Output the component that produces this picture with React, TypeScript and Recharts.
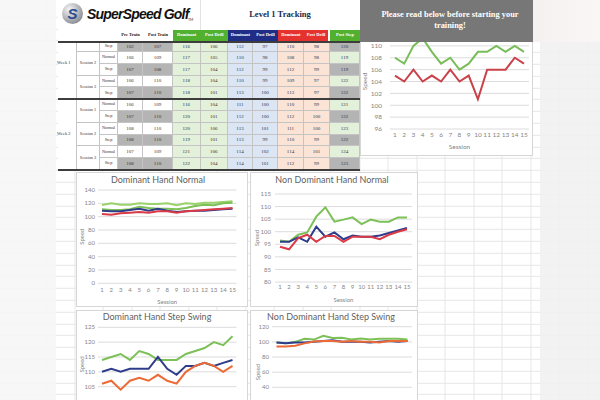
import React from 'react';
import { LineChart, Line, XAxis, YAxis, CartesianGrid } from 'recharts';

// ── Chart data ────────────────────────────────────────────────────────────────
const sessions = ['1', '2', '3', '4', '5', '6', '7', '8', '9', '10', '11', '12', '13', '14', '15'];

// Level 1 overview (top right)
const overviewGreen = [108, 107, 110, 111.3, 109, 107, 108, 106, 107, 109, 109, 110, 109, 110, 109];
const overviewRed = [105, 104, 106, 104, 105, 104, 106, 104, 105, 101, 106, 106, 106, 108, 107];

// Dominant Hand Normal
const domNormalLight = [117.5, 120, 118, 118, 120, 119, 119, 120, 117, 120, 119, 121, 121, 122, 123];
const domNormalGreen = [111, 110, 110, 111, 115, 113, 112, 112, 111, 113, 116, 118, 117, 120, 121];
const domNormalNavy = [109, 108, 108, 110, 112, 109, 112, 109, 107, 108, 109, 109, 110, 111, 112];
const domNormalRed = [104, 103, 105, 106, 107, 106, 108, 108, 106, 108, 109, 110, 111, 112, 113];

// Non Dominant Hand Normal
const nonDomNormalGreen = [96.5, 96, 98.8, 99.7, 106, 109.7, 104, 104.8, 105.7, 103, 104.8, 104, 104, 105.7, 105.7];
const nonDomNormalNavy = [96, 96, 97.8, 96, 102, 98, 99.7, 97, 98.5, 98, 98, 98.5, 99.5, 100.5, 101.5];
const nonDomNormalRed = [94, 93, 97.5, 98.8, 96, 98.3, 98.3, 96, 98, 98, 98, 97, 98.8, 100, 101];

// Dominant Hand Step Swing
const domStepGreen = [114, 115, 116, 114, 117, 116, 114, 114, 114, 116, 117, 118, 120, 119, 122];
const domStepNavy = [110, 111, 110, 111, 111, 111, 115, 111, 109, 112, 112, 113, 112, 113, 114];
const domStepOrange = [106, 107, 104, 107, 108, 107, 109, 107, 106, 110, 112, 113, 112, 110, 112];

// Non Dominant Hand Step Swing
const nonDomStepGreen = [99, 98, 100, 104, 103, 108, 105, 105.5, 103, 104.5, 103, 104, 104, 104, 103];
const nonDomStepNavy = [99, 98, 99, 99, 100, 101, 102, 100, 100, 100, 99, 100, 101, 100, 101];
const nonDomStepOrange = [94, 94, 95, 98, 100.5, 101, 101, 100, 101, 100, 100, 99, 101, 101, 101];

// ── Table data ────────────────────────────────────────────────────────────────
const headerLabels = ['Pre Train', 'Post Train', 'Dominant', 'Post Drill', 'Dominant', 'Post Drill', 'Dominant', 'Post Drill', 'Post Step'];
const rowTypes = ['Step', 'Normal', 'Step', 'Normal', 'Step', 'Normal', 'Step', 'Normal', 'Step', 'Normal', 'Step'];
const sessionLabels = ['', 'Session 2', 'Session 3', 'Session 1', 'Session 2', 'Session 3'];
const weekLabels = ['Week 1', 'Week 2'];
const preTrain = [102, 106, 107, 106, 107, 106, 107, 108, 108, 107, 108];
const postTrain = [107, 109, 108, 110, 110, 109, 110, 110, 110, 109, 110];
const domGreen = [116, 117, 117, 118, 118, 116, 120, 120, 119, 121, 122];
const drillGreen = [106, 105, 104, 104, 101, 104, 101, 106, 101, 106, 104];
const domBlue = [112, 110, 112, 110, 113, 111, 112, 113, 113, 114, 114];
const drillBlue = [97, 98, 99, 99, 100, 100, 100, 101, 99, 102, 101];
const domRed = [110, 108, 112, 109, 113, 110, 112, 111, 110, 114, 112];
const drillRed = [98, 98, 99, 97, 97, 99, 100, 100, 99, 101, 99];
const postStep = [120, 119, 119, 122, 122, 121, 122, 123, 122, 124, 123];
const tableColumns = [preTrain, postTrain, domGreen, drillGreen, domBlue, drillBlue, domRed, drillRed, postStep];

// ── Layout ────────────────────────────────────────────────────────────────────
const COL_X = [118, 143, 173, 200.5, 228, 253, 278, 304, 330, 360];
const ROW_Y = [42, 52, 63.8, 75.6, 87.4, 99.2, 111, 122.8, 134.6, 146.4, 158.2, 170];
const SESSION_SPANS = [[0, 0], [1, 2], [3, 4], [5, 6], [7, 8], [9, 10]];
const WEEK_SPANS = [[1, 2], [5, 10]];

const GREEN_H = '#52b02f';
const NAVY_H = '#1f2d86';
const RED_H = '#e5322e';
const headerBg = ['#fff', '#fff', GREEN_H, GREEN_H, NAVY_H, NAVY_H, RED_H, RED_H, GREEN_H];

const chartFont = 'Lato, "Open Sans", sans-serif';
const serif = '"Liberation Serif", "DejaVu Serif", serif';

const GREEN = '#7cc057';
const LIGHT_GREEN = '#9ad26c';
const NAVY = '#2f3c8c';
const RED = '#d93a46';
const ORANGE = '#ec6a36';

type Series = { key: string; values: number[]; color: string };
type ChartSpec = {
  left: number;
  top: number;
  width: number;
  height: number;
  margin: { top: number; right: number; bottom: number; left: number };
  yWidth: number;
  xHeight: number;
  pad: number;
  domain: [number, number];
  ticks: number[];
  xTickMargin: number;
  yTickMargin: number;
  speedOffset: number;
  sessionOffset: number;
  fontSize: number;
  showX: boolean;
  series: Series[];
};

const charts: ChartSpec[] = [
  {
    left: 355, top: 28, width: 180, height: 127,
    margin: { top: 6, right: 6, bottom: 4, left: 5 },
    yWidth: 30, xHeight: 22, pad: 5,
    domain: [96, 112], ticks: [96, 98, 100, 102, 104, 106, 108, 110, 112],
    xTickMargin: 3, yTickMargin: 8, speedOffset: 5, sessionOffset: 2, fontSize: 6.5, showX: true,
    series: [
      { key: 'green', values: overviewGreen, color: '#78bd57' },
      { key: 'red', values: overviewRed, color: '#c9424a' },
    ],
  },
  {
    left: 76, top: 172, width: 172, height: 135,
    margin: { top: 18, right: 11.5, bottom: 2.7, left: 6 },
    yWidth: 16, xHeight: 21, pad: 4,
    domain: [0, 140], ticks: [0, 20, 40, 60, 80, 100, 120, 140],
    xTickMargin: 4, yTickMargin: 3, speedOffset: 0, sessionOffset: 0, fontSize: 6, showX: true,
    series: [
      { key: 'light', values: domNormalLight, color: LIGHT_GREEN },
      { key: 'green', values: domNormalGreen, color: GREEN },
      { key: 'navy', values: domNormalNavy, color: NAVY },
      { key: 'red', values: domNormalRed, color: RED },
    ],
  },
  {
    left: 250, top: 172, width: 168, height: 135,
    margin: { top: 22, right: 6, bottom: 5, left: 3 },
    yWidth: 22, xHeight: 20, pad: 5,
    domain: [80, 115], ticks: [80, 85, 90, 95, 100, 105, 110, 115],
    xTickMargin: 3, yTickMargin: 4, speedOffset: 4, sessionOffset: 0, fontSize: 6, showX: true,
    series: [
      { key: 'green', values: nonDomNormalGreen, color: GREEN },
      { key: 'navy', values: nonDomNormalNavy, color: NAVY },
      { key: 'red', values: nonDomNormalRed, color: RED },
    ],
  },
  {
    // lower part of this chart is below the photo's edge
    left: 76, top: 310, width: 172, height: 120,
    margin: { top: 17.3, right: 11.5, bottom: 6.5, left: 6 },
    yWidth: 16, xHeight: 22, pad: 4,
    domain: [100, 125], ticks: [105, 110, 115, 120, 125],
    xTickMargin: 4, yTickMargin: 3, speedOffset: 0, sessionOffset: 0, fontSize: 6, showX: false,
    series: [
      { key: 'green', values: domStepGreen, color: GREEN },
      { key: 'navy', values: domStepNavy, color: NAVY },
      { key: 'orange', values: domStepOrange, color: ORANGE },
    ],
  },
  {
    left: 250, top: 310, width: 168, height: 130,
    margin: { top: 16.7, right: 6, bottom: 4.4, left: 2 },
    yWidth: 20, xHeight: 18, pad: 4.5,
    domain: [0, 120], ticks: [40, 60, 80, 100, 120],
    xTickMargin: 3, yTickMargin: 3, speedOffset: 6, sessionOffset: 0, fontSize: 6, showX: false,
    series: [
      { key: 'green', values: nonDomStepGreen, color: GREEN },
      { key: 'navy', values: nonDomStepNavy, color: NAVY },
      { key: 'orange', values: nonDomStepOrange, color: ORANGE },
    ],
  },
];

const chartBoxes = [
  { left: 76, top: 172, width: 172, height: 135, title: 'Dominant Hand Normal', cx: 158, cy: 180 },
  { left: 250, top: 172, width: 168, height: 135, title: 'Non Dominant Hand Normal', cx: 332, cy: 180 },
  { left: 76, top: 310, width: 172, height: 100, title: 'Dominant Hand Step Swing', cx: 157, cy: 317 },
  { left: 250, top: 310, width: 168, height: 100, title: 'Non Dominant Hand Step Swing', cx: 331, cy: 317 },
];

// ── Mini line chart ───────────────────────────────────────────────────────────
function MiniChart({ spec }: { spec: ChartSpec }) {
  const data = sessions.map((s, i) => {
    const row: Record<string, number | string> = { session: s };
    spec.series.forEach((sr) => {
      row[sr.key] = sr.values[i];
    });
    return row;
  });
  const text = { fontSize: spec.fontSize, fill: '#858585', fontFamily: chartFont };

  return (
    <div style={{ position: 'absolute', left: spec.left, top: spec.top }}>
      <LineChart width={spec.width} height={spec.height} data={data} margin={spec.margin}>
        <CartesianGrid vertical={false} stroke="#dcdcdc" />
        <XAxis
          dataKey="session"
          interval={0}
          tickLine={false}
          axisLine={false}
          tickSize={0}
          tickMargin={spec.xTickMargin}
          height={spec.xHeight}
          padding={{ left: spec.pad, right: spec.pad }}
          tick={spec.showX ? text : false}
          label={spec.showX ? { value: 'Session', position: 'insideBottom', offset: spec.sessionOffset, ...text } : undefined}
        />
        <YAxis
          type="number"
          domain={spec.domain}
          ticks={spec.ticks}
          interval={0}
          allowDataOverflow
          width={spec.yWidth}
          tickLine={false}
          axisLine={false}
          tickSize={0}
          tickMargin={spec.yTickMargin}
          tick={text}
          label={{
            value: 'Speed',
            angle: -90,
            position: 'insideLeft',
            offset: spec.speedOffset,
            style: { textAnchor: 'middle' },
            ...text,
          }}
        />
        {spec.series.map((sr) => (
          <Line
            key={sr.key}
            type="linear"
            dataKey={sr.key}
            stroke={sr.color}
            strokeWidth={2}
            dot={false}
            isAnimationActive={false}
          />
        ))}
      </LineChart>
    </div>
  );
}

// ── Tracking table ────────────────────────────────────────────────────────────
function cellFill(col: number, row: number) {
  const step = rowTypes[row] === 'Step';
  if (col < 2) return step ? '#b4b4b4' : '#ffffff';
  if (col < 4) return '#e3f0da';
  if (col < 6) return '#dbe5f3';
  if (col < 8) return '#fbe3d6';
  return step ? '#b4b4b4' : '#e3f0da';
}

function TrackingTable() {
  const cells: React.ReactNode[] = [];
  const tiny = { fontFamily: serif, fontSize: 5, color: '#333', lineHeight: 1 };

  // header
  headerLabels.forEach((h, c) => {
    const colored = c >= 2;
    cells.push(
      <div
        key={`h${c}`}
        style={{
          position: 'absolute', left: COL_X[c], top: 30, width: COL_X[c + 1] - COL_X[c], height: 11,
          background: headerBg[c], display: 'flex', alignItems: 'center', justifyContent: 'center',
          ...tiny, fontSize: 4.5, fontWeight: 700, color: colored ? '#fff' : '#222',
          borderRight: c === 7 ? '2px solid #fff' : 'none', boxSizing: 'border-box',
        }}
      >
        {h}
      </div>,
    );
  });

  // value cells
  rowTypes.forEach((t, r) => {
    const top = ROW_Y[r];
    const h = ROW_Y[r + 1] - top;
    tableColumns.forEach((col, c) => {
      cells.push(
        <div
          key={`c${r}-${c}`}
          style={{
            position: 'absolute', left: COL_X[c], top, width: COL_X[c + 1] - COL_X[c], height: h,
            background: cellFill(c, r), borderRight: '0.6px solid #c4c4c4', borderBottom: '0.6px solid #c4c4c4',
            boxSizing: 'border-box', display: 'flex', alignItems: 'center', justifyContent: 'center', ...tiny,
          }}
        >
          {col[r]}
        </div>,
      );
    });
    cells.push(
      <div
        key={`t${r}`}
        style={{
          position: 'absolute', left: 99, top, width: 19, height: h, background: '#fff',
          borderLeft: '0.6px solid #c4c4c4', borderRight: '0.6px solid #c4c4c4', borderBottom: '0.6px solid #c4c4c4',
          boxSizing: 'border-box', display: 'flex', alignItems: 'center', justifyContent: 'center',
          ...tiny, fontSize: 4.3,
        }}
      >
        {t}
      </div>,
    );
  });

  // session labels
  sessionLabels.forEach((s, i) => {
    const [a, b] = SESSION_SPANS[i];
    cells.push(
      <div
        key={`s${i}`}
        style={{
          position: 'absolute', left: 76, top: ROW_Y[a], width: 23, height: ROW_Y[b + 1] - ROW_Y[a],
          background: '#fff', borderLeft: '0.6px solid #c4c4c4', borderBottom: '0.6px solid #c4c4c4',
          boxSizing: 'border-box', display: 'flex', alignItems: 'center', justifyContent: 'center',
          ...tiny, fontSize: 4.3,
        }}
      >
        {s}
      </div>,
    );
  });

  // week labels
  weekLabels.forEach((w, i) => {
    const [a, b] = WEEK_SPANS[i];
    const cy = (ROW_Y[a] + ROW_Y[b + 1]) / 2;
    cells.push(
      <div key={`w${i}`} style={{ position: 'absolute', left: 57, top: cy - 3, ...tiny, fontSize: 4.5 }}>
        {w}
      </div>,
    );
  });

  // thick dividers
  [41, 98.4, 169.4].forEach((y, i) => {
    cells.push(
      <div key={`d${i}`} style={{ position: 'absolute', left: 58, top: y, width: 302, height: 1.8, background: '#3d3d3d' }} />,
    );
  });

  return (
    <>
      <div style={{ position: 'absolute', left: 58, top: 30, width: 302, height: 140, background: '#fff' }} />
      {cells}
    </>
  );
}

// ── App ───────────────────────────────────────────────────────────────────────
export default function App() {
  return (
    <div
      style={{
        position: 'fixed', left: 0, top: 0, width: 600, height: 400, overflow: 'hidden',
        backgroundColor: '#fff',
        backgroundImage:
          'repeating-linear-gradient(to right, transparent 0px, transparent 27.5px, #e6e6e6 27.5px, #e6e6e6 28.5px),' +
          'repeating-linear-gradient(to bottom, transparent 0px, transparent 10.8px, #e6e6e6 10.8px, #e6e6e6 11.8px)',
        backgroundPosition: '18.5px 5.8px',
        fontFamily: chartFont,
      }}
    >
      {/* sheet header area */}
      <div style={{ position: 'absolute', left: 58, top: 0, width: 302, height: 30, background: '#fff' }} />
      <div style={{ position: 'absolute', left: 200, top: 0, width: 0.8, height: 30, background: '#e3e3e3' }} />

      {/* logo */}
      <div
        style={{
          position: 'absolute', left: 62, top: 3, width: 21, height: 21, borderRadius: '50%',
          background: 'radial-gradient(circle at 35% 30%, #f4f4f4 0%, #a9abb0 55%, #6d7076 100%)',
          display: 'flex', alignItems: 'center', justifyContent: 'center',
        }}
      >
        <span style={{ fontFamily: '"Liberation Sans", sans-serif', fontWeight: 700, fontStyle: 'italic', fontSize: 15, color: '#2b4c8f' }}>S</span>
      </div>
      <div
        style={{
          position: 'absolute', left: 87, top: 6, fontFamily: '"Liberation Sans", Arial, sans-serif',
          fontWeight: 700, fontStyle: 'italic', fontSize: 14, letterSpacing: -0.8, color: '#111', whiteSpace: 'nowrap',
        }}
      >
        SuperSpeed Golf
      </div>
      <div style={{ position: 'absolute', left: 188, top: 18, fontSize: 3.5, color: '#333' }}>TM</div>
      <div
        style={{
          position: 'absolute', left: 240, top: 9, width: 80, textAlign: 'center', fontFamily: serif,
          fontWeight: 700, fontSize: 8.6, color: '#1f2a48', whiteSpace: 'nowrap',
        }}
      >
        Level 1 Tracking
      </div>

      <TrackingTable />

      {/* chart boxes */}
      <div style={{ position: 'absolute', left: 360, top: 30, width: 173, height: 126, background: '#fff', border: '0.6px solid #d6d6d6', boxSizing: 'border-box' }} />
      {chartBoxes.map((b) => (
        <div
          key={b.title}
          style={{
            position: 'absolute', left: b.left, top: b.top, width: b.width, height: b.height,
            background: '#fff', border: '0.6px solid #d6d6d6', boxSizing: 'border-box',
          }}
        />
      ))}

      {charts.map((c, i) => (
        <MiniChart key={i} spec={c} />
      ))}

      {chartBoxes.map((b) => (
        <div
          key={`t-${b.title}`}
          style={{
            position: 'absolute', left: b.cx - 70, top: b.cy - 6, width: 140, textAlign: 'center',
            fontSize: 9, color: '#5f5f5f', fontFamily: chartFont, whiteSpace: 'nowrap',
          }}
        >
          {b.title}
        </div>
      ))}

      {/* notice banner */}
      <div
        style={{
          position: 'absolute', left: 360, top: 0, width: 180, height: 42, background: '#777777',
          display: 'flex', alignItems: 'center', justifyContent: 'center', textAlign: 'center',
          fontFamily: serif, fontWeight: 700, fontSize: 8.4, lineHeight: '10.3px', color: '#fff', paddingBottom: 1,
          boxSizing: 'border-box',
        }}
      >
        Please read below before starting your
        <br />
        training!
      </div>

      {/* blurred photo edges */}
      <div style={{ position: 'absolute', left: 0, top: 0, width: 56, height: 400, background: 'rgba(246,246,246,0.88)' }} />
      <div style={{ position: 'absolute', left: 540, top: 0, width: 60, height: 400, background: 'rgba(241,241,241,0.9)' }} />
      <div style={{ position: 'absolute', left: 533, top: 0, width: 67, height: 42, background: 'linear-gradient(to right, #f6f1f1, #fbf6f6)' }} />
    </div>
  );
}
